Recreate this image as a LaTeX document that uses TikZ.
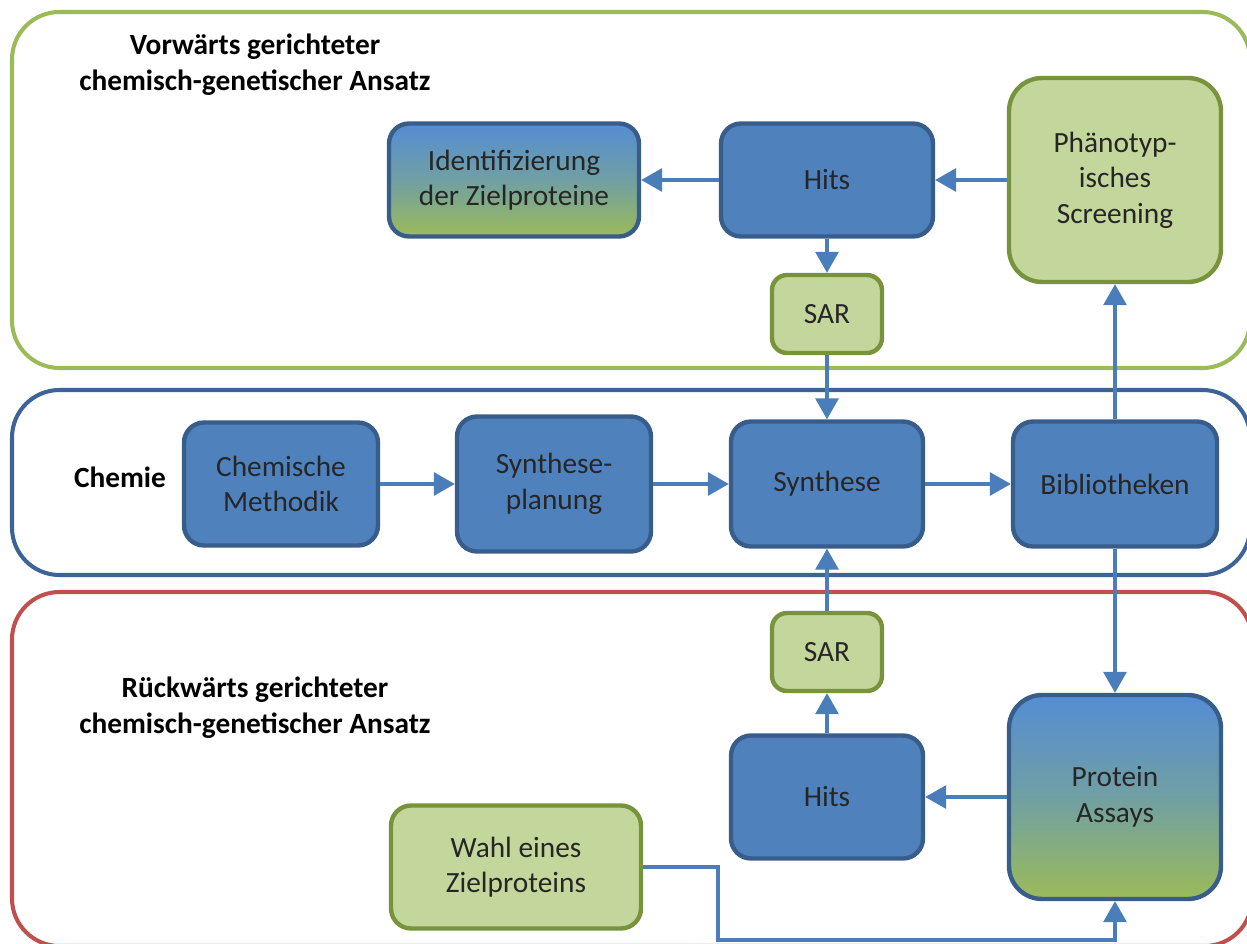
\documentclass[tikz,border=0pt]{standalone}
\usepackage{fontspec}
\setmainfont{Carlito}
\usetikzlibrary{arrows.meta}
\definecolor{bluefill}{HTML}{4F81BD}
\definecolor{blueline}{HTML}{385D8A}
\definecolor{greenfill}{HTML}{C3D69B}
\definecolor{greenline}{HTML}{77933C}
\definecolor{gradtop}{HTML}{548DD4}
\definecolor{gradbot}{HTML}{9BBB59}
\definecolor{framegreen}{HTML}{9BBB59}
\definecolor{frameblue}{HTML}{3C6496}
\definecolor{framered}{HTML}{C0504D}
\definecolor{arrowblue}{HTML}{4A7EBB}
\definecolor{textgray}{HTML}{262626}
\tikzset{
    box/.style={rectangle, rounded corners=0.4cm, line width=2.5pt, inner sep=0pt,
        align=center, text=textgray, font=\fontsize{16.7}{20.2}\selectfont},
    bluebox/.style={box, draw=blueline, fill=bluefill},
    greenbox/.style={box, draw=greenline, fill=greenfill},
    shadebox/.style={box, draw=blueline, top color=gradtop, bottom color=gradbot, middle color=gradtop!60!gradbot},
    frame/.style={line width=2.3pt, rounded corners=0.95cm},
    title/.style={align=center, font=\bfseries\fontsize{16.7}{20.4}\selectfont},
    arr/.style={draw=arrowblue, line width=1.8pt, -{Triangle[length=0.42cm,width=0.46cm]}},
}

\begin{document}
\begin{tikzpicture}[x=0.02cm, y=-0.02cm]
            \useasboundingbox (0,0) rectangle (1247,943);
            \clip (0,0) rectangle (1247,943);
            \draw[frame, draw=framegreen] (12,12) rectangle (1250,368);
            \draw[frame, draw=frameblue] (12,390) rectangle (1250,575);
            \draw[frame, draw=framered] (12,592) rectangle (1252,946);

            \node[title] (fwd) at (255,65) {Vorwärts gerichteter\\chemisch-genetischer Ansatz};
            \node[title] (chemie) at (120,477) {Chemie};
            \node[title] (rev) at (255,708) {Rückwärts gerichteter\\chemisch-genetischer Ansatz};

            \node[shadebox, minimum width=5.0cm, minimum height=2.26cm] (ident) at (514,180) {Identifizierung\\der Zielproteine};
            \node[bluebox, minimum width=4.24cm, minimum height=2.26cm] (hitsA) at (827,180) {Hits};
            \node[greenbox, rounded corners=0.66cm, minimum width=4.24cm, minimum height=4.08cm] (pheno) at (1115,180) {Phänotyp-\\isches\\Screening};
            \node[greenbox, rounded corners=0.3cm, minimum width=2.2cm, minimum height=1.56cm] (sarA) at (827,314) {SAR};

            \node[bluebox, minimum width=3.88cm, minimum height=2.46cm] (chem) at (281,484) {Chemische\\Methodik};
            \node[bluebox, minimum width=3.88cm, minimum height=2.7cm] (plan) at (554,484) {Synthese-\\planung};
            \node[bluebox, minimum width=3.84cm, minimum height=2.5cm] (synth) at (827,484) {Synthese};
            \node[bluebox, minimum width=4.08cm, minimum height=2.5cm] (bib) at (1115,484) {Bibliotheken};

            \node[greenbox, rounded corners=0.3cm, minimum width=2.2cm, minimum height=1.56cm] (sarB) at (827,652) {SAR};
            \node[bluebox, minimum width=3.84cm, minimum height=2.46cm] (hitsB) at (827,797) {Hits};
            \node[shadebox, rounded corners=0.66cm, minimum width=4.24cm, minimum height=4.08cm] (assay) at (1115,797) {Protein\\Assays};
            \node[greenbox, minimum width=5.0cm, minimum height=2.46cm] (wahl) at (516,867) {Wahl eines\\Zielproteins};

            \draw[arr] (hitsA) -- (ident);
            \draw[arr] (pheno) -- (hitsA);
            \draw[arr] (hitsA) -- (sarA);
            \draw[arr] (sarA) -- (synth);
            \draw[arr] (chem) -- (plan);
            \draw[arr] (plan) -- (synth);
            \draw[arr] (synth) -- (bib);
            \draw[arr] (bib) -- (pheno);
            \draw[arr] (bib) -- (assay);
            \draw[arr] (assay) -- (hitsB);
            \draw[arr] (hitsB) -- (sarB);
            \draw[arr] (sarB) -- (synth);
            \coordinate (k) at (718,940);
            \draw[arr] (wahl.east) -| (k) -| (assay.south);
\end{tikzpicture}
\end{document}
